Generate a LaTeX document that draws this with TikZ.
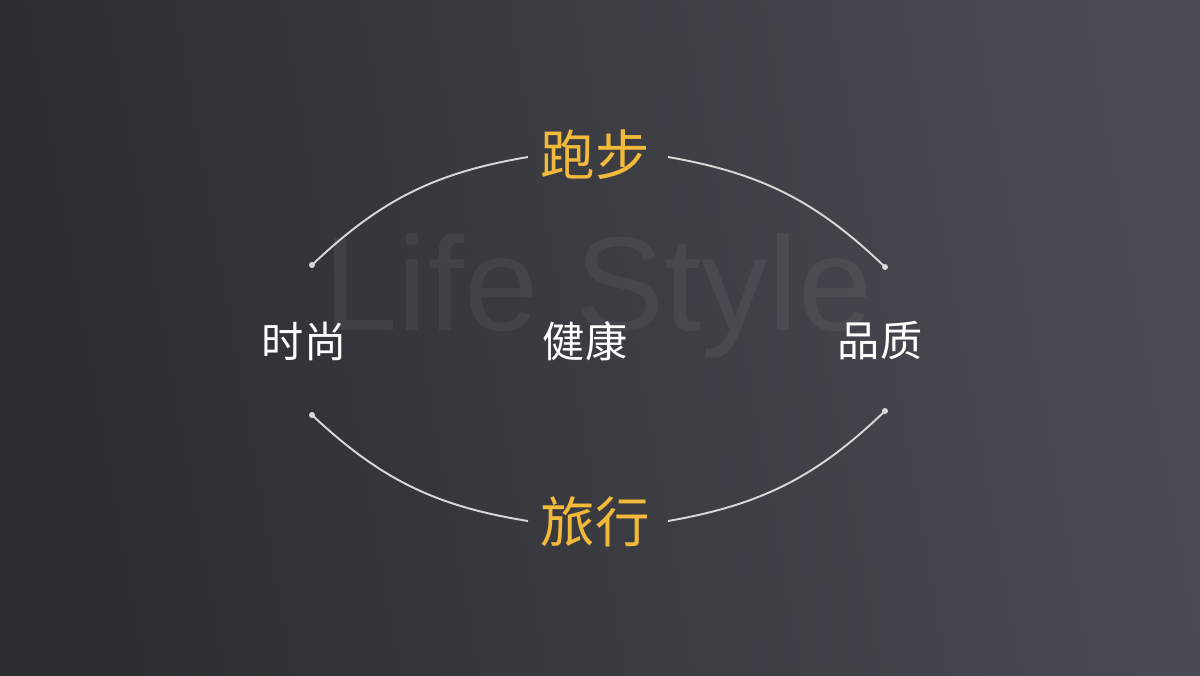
\documentclass[tikz,border=0pt]{standalone}
\usepackage{fontspec}
\setmainfont{Liberation Sans}
\newfontfamily\cjk{Noto Sans CJK SC}
\usetikzlibrary{positioning}
\definecolor{bgLeft}{HTML}{2C2D31}
\definecolor{bgRight}{HTML}{4A4C54}
\definecolor{gold}{HTML}{F2B93B}
\definecolor{lineGray}{HTML}{D8D8D8}
\begin{document}
\begin{tikzpicture}[
    word/.style = { shape=rectangle, inner sep=0pt, text=white, font=\cjk\fontsize{24}{24}\selectfont },
    keyword/.style = { shape=rectangle, inner sep=0pt, text=gold, font=\cjk\fontsize{31}{31}\selectfont },
    endpoint/.style = { shape=circle, fill=lineGray, inner sep=0pt, minimum size=0.12cm },
    arcline/.style = { draw=lineGray, line width=1.1pt }
  ]
  % background
  \useasboundingbox (0,0) rectangle (24,-13.5);
  \shade [left color=bgLeft, right color=bgRight, shading angle=100] (0,0) rectangle (24,-13.5);
  % watermark
  \node (nLifeStyle) [ anchor=base, inner sep=0pt, text=white, text opacity=0.055, font=\fontsize{76}{76}\selectfont ] at (11.96,-6.6) {Life Style};
  % middle row
  \node (nHealth) [ word ] at (11.7,-6.82) {健康};
  \node (nFashion) [ word, left of = nHealth, node distance = 5.62cm ] {时尚};
  \node (nQuality) [ word, right of = nHealth, node distance = 5.9cm ] {品质};
  % top and bottom
  \node (nRunning) [ keyword ] at (11.9,-3.1) {跑步};
  \node (nTravel) [ keyword ] at (11.9,-10.44) {旅行};
  % arc ends
  \node (nDotTL) [ endpoint ] at (6.24,-5.3) {};
  \node (nDotTR) [ endpoint ] at (17.7,-5.34) {};
  \node (nDotBL) [ endpoint ] at (6.24,-8.3) {};
  \node (nDotBR) [ endpoint ] at (17.7,-8.22) {};
  \coordinate (cRunL) at (10.56,-3.14);
  \coordinate (cRunR) at (13.36,-3.14);
  \coordinate (cTravL) at (10.56,-10.42);
  \coordinate (cTravR) at (13.36,-10.42);
  % arcs
  \draw [arcline] (nDotTL.center) to [bend left=17] (cRunL);
  \draw [arcline] (cRunR) to [bend left=17] (nDotTR.center);
  \draw [arcline] (nDotBL.center) to [bend right=17] (cTravL);
  \draw [arcline] (cTravR) to [bend right=17] (nDotBR.center);
\end{tikzpicture}
\end{document}
